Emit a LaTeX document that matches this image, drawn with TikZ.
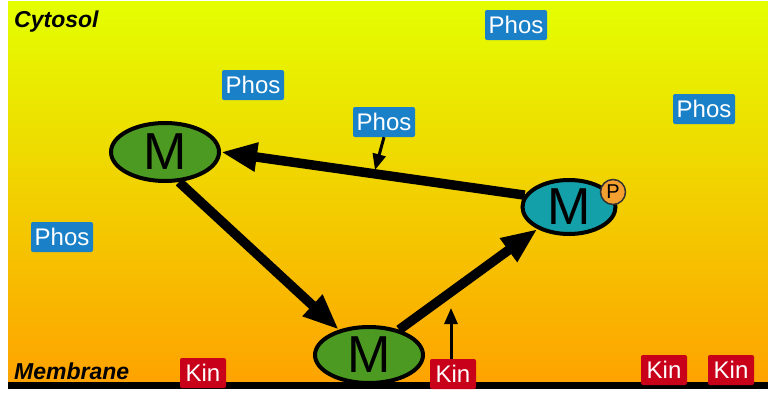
\documentclass[tikz,border=0pt]{standalone}
\usepackage{fontspec}
\setmainfont{Liberation Sans}
\usetikzlibrary{arrows.meta,calc,shapes.geometric}
\definecolor{bgtop}{HTML}{E4FF00}
\definecolor{bgbot}{HTML}{FFA200}
\definecolor{phosblue}{HTML}{1A80C8}
\definecolor{kinred}{HTML}{C8001A}
\definecolor{mgreen}{HTML}{4C9A22}
\definecolor{mteal}{HTML}{14A0A8}
\definecolor{porange}{HTML}{F4A030}
\tikzset{
  phosbox/.style={fill=phosblue, text=white, rounded corners=2pt, minimum width=62pt, minimum height=30pt, inner sep=0pt, font=\fontsize{24}{24}\selectfont},
  kinbox/.style={fill=kinred, text=white, rounded corners=2pt, minimum width=46pt, minimum height=30pt, inner sep=0pt, font=\fontsize{24}{24}\selectfont},
  mol/.style={ellipse, draw=black, line width=4pt, inner sep=0pt, font=\fontsize{52}{52}\selectfont},
  bigarrow/.style={line width=9.5pt, -{Triangle[length=36pt,width=27pt]}},
  thinarrow/.style={line width=3pt, -{Triangle[length=16pt,width=13pt]}},
  region/.style={font=\fontsize{23}{23}\selectfont\bfseries\itshape, anchor=west, inner sep=0pt}
}
\begin{document}
\begin{tikzpicture}[x=1pt,y=-1pt]
\useasboundingbox (0,0) rectangle (768,394);
\shade[top color=bgtop, bottom color=bgbot] (8,1) rectangle (768,386);
\fill[black] (8,382) rectangle (768,389);

\node[region] (cyto) at (14,22) {Cytosol};
\node[region] (memb) at (14,371) {Membrane};

\node[phosbox] (p1) at (516,25) {Phos};
\node[phosbox] (p2) at (253,85) {Phos};
\node[phosbox] (p3) at (384,122) {Phos};
\node[phosbox] (p4) at (704,109) {Phos};
\node[phosbox] (p5) at (62,237) {Phos};

\node[mol, fill=mgreen, minimum width=108pt, minimum height=58pt] (m1) at (165,152) {M};
\node[mol, fill=mteal, minimum width=93pt, minimum height=54pt] (m2) at (569,207) {M};
\node[mol, fill=mgreen, minimum width=108pt, minimum height=56pt] (m3) at (369,355) {M};
\node[circle, draw=black!80, line width=1.5pt, fill=porange, minimum size=25pt, inner sep=0pt, font=\fontsize{20}{20}\selectfont] (pp) at (613,192) {P};

\node[kinbox] (k1) at (203,373) {Kin};
\node[kinbox] (k2) at (453,374) {Kin};
\node[kinbox] (k3) at (664,370) {Kin};
\node[kinbox] (k4) at (731,370) {Kin};

\draw[bigarrow] (m2.165) -- (m1.east);
\draw[bigarrow] (m1.-65) -- (m3.140);
\draw[bigarrow] (m3.40) -- (m2.-145);

\coordinate (hit1) at (375,170);
\coordinate (hit2) at (451,308);
\draw[thinarrow] (p3.south) -- (hit1);
\draw[thinarrow] (k2.north -| hit2) -- (hit2);
\end{tikzpicture}
\end{document}
